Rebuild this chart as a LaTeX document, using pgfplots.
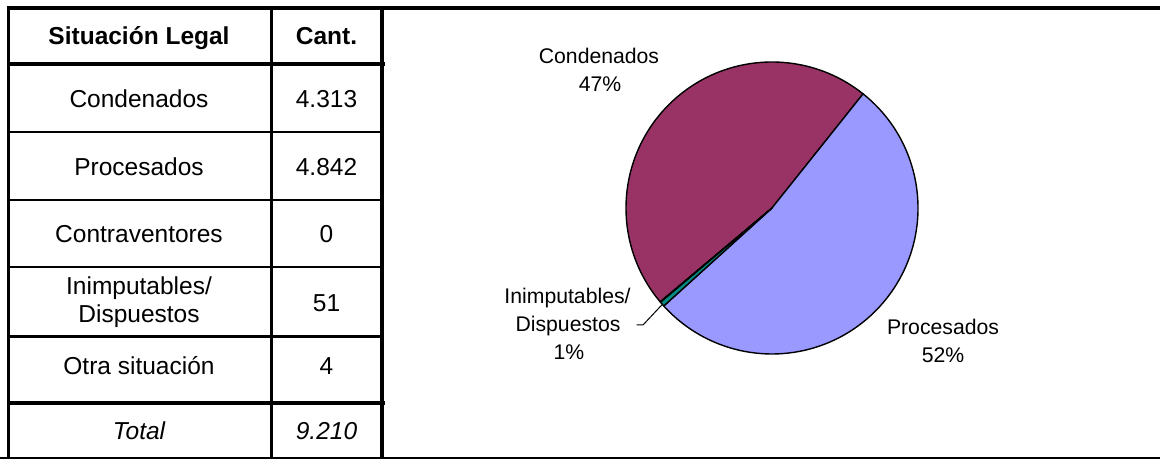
\documentclass[border=0pt]{standalone}
\usepackage{pgfplots}
\usepackage{pgfplotstable}
\pgfplotsset{compat=1.18}
\usepackage{fontspec}
\setmainfont{Liberation Sans}

\definecolor{condenados}{HTML}{993366}
\definecolor{procesados}{HTML}{9999FF}
\definecolor{inimputables}{RGB}{0,140,130}
\definecolor{otra}{HTML}{FFFFCC}

\pgfplotstableread{
situacion cant
Condenados 4313
Procesados 4842
Contraventores 0
Inimputables 51
Otra 4
}\situacion

\newcommand{\tabfont}{\fontsize{12.25}{14}\selectfont}
\newcommand{\piefont}{\fontsize{10.6}{13}\selectfont}
% slice: start angle, end angle, colour (clockwise, centre 772,251, r = 146 units)
\newcommand{\pieslice}[3]{%
  \filldraw[fill=#3, draw=black, line width=0.7pt, line join=round]
    (axis cs:772,251) -- (axis cs:{772+146*cos(#1)},{251+146*sin(#1)})
    arc[start angle=#1, end angle=#2, radius=73pt] -- cycle;}

\begin{document}
\begin{tikzpicture}
\path[use as bounding box] (0,0) rectangle (580pt,229.5pt);

\pgfplotstablegetelem{0}{cant}\of\situacion \let\vCond\pgfplotsretval
\pgfplotstablegetelem{1}{cant}\of\situacion \let\vProc\pgfplotsretval
\pgfplotstablegetelem{2}{cant}\of\situacion \let\vCont\pgfplotsretval
\pgfplotstablegetelem{3}{cant}\of\situacion \let\vInim\pgfplotsretval
\pgfplotstablegetelem{4}{cant}\of\situacion \let\vOtra\pgfplotsretval
\pgfmathsetmacro{\total}{\vCond+\vProc+\vCont+\vInim+\vOtra}
\pgfmathsetmacro{\aA}{220}
\pgfmathsetmacro{\aB}{\aA-360*(\vCond/\total)}
\pgfmathsetmacro{\aC}{\aB-360*(\vProc/\total)}
\pgfmathsetmacro{\aD}{\aC-360*(\vCont/\total)}
\pgfmathsetmacro{\aE}{\aD-360*(\vInim/\total)}
\pgfmathsetmacro{\aF}{\aE-360*(\vOtra/\total)}

\begin{axis}[
    at={(0,0)}, anchor=south west,
    hide axis,
    x=0.5pt, y=0.5pt,
    xmin=0, xmax=1160,
    ymin=0, ymax=459,
    clip=false,
  ]
  % table grid
  \draw[line width=1.75pt] (axis cs:6.8,451) -- (axis cs:1160,451);
  \draw[line width=1.6pt] (axis cs:8.5,451) -- (axis cs:8.5,0);
  \draw[line width=2pt] (axis cs:382,451) -- (axis cs:382,0);
  \draw[line width=1.3pt] (axis cs:271.5,451) -- (axis cs:271.5,0);
  \draw[line width=2pt] (axis cs:8.5,395) -- (axis cs:385,395);
  \draw[line width=1.3pt] (axis cs:8.5,327) -- (axis cs:382,327);
  \draw[line width=1.3pt] (axis cs:8.5,259) -- (axis cs:382,259);
  \draw[line width=1.3pt] (axis cs:8.5,192) -- (axis cs:382,192);
  \draw[line width=1.3pt] (axis cs:8.5,122.5) -- (axis cs:382,122.5);
  \draw[line width=2pt] (axis cs:8.5,56) -- (axis cs:385,56);
  \draw[line width=1.2pt] (axis cs:0,0.7) -- (axis cs:1160,0.7);

  % table text
  \node[anchor=base, font=\tabfont\bfseries] at (axis cs:139,414) {Situación Legal};
  \node[anchor=base, font=\tabfont\bfseries] at (axis cs:326.5,414) {Cant.};
  \node[anchor=base, font=\tabfont] at (axis cs:139,351.7) {Condenados};
  \node[anchor=base, font=\tabfont] at (axis cs:326.5,351.7) {4.313};
  \node[anchor=base, font=\tabfont] at (axis cs:139,283.3) {Procesados};
  \node[anchor=base, font=\tabfont] at (axis cs:326.5,283.3) {4.842};
  \node[anchor=base, font=\tabfont] at (axis cs:139,216.5) {Contraventores};
  \node[anchor=base, font=\tabfont] at (axis cs:326.5,216.5) {0};
  \node[anchor=base, font=\tabfont] at (axis cs:139,164) {Inimputables/};
  \node[anchor=base, font=\tabfont] at (axis cs:139,136) {Dispuestos};
  \node[anchor=base, font=\tabfont] at (axis cs:326.5,147.3) {51};
  \node[anchor=base, font=\tabfont] at (axis cs:139,84) {Otra situación};
  \node[anchor=base, font=\tabfont] at (axis cs:326.5,84) {4};
  \node[anchor=base, font=\tabfont\itshape] at (axis cs:139,19) {Total};
  \node[anchor=base, font=\tabfont\itshape] at (axis cs:326.5,19) {9.210};

  % pie
  \pieslice{\aA}{\aB}{condenados}
  \pieslice{\aB}{\aC}{procesados}
  \pieslice{\aD}{\aE}{inimputables}
  \pieslice{\aE}{\aF}{otra}

  % pie labels
  \node[anchor=base, font=\piefont] at (axis cs:599,395) {Condenados};
  \node[anchor=base, font=\piefont] at (axis cs:600,367.3) {47\%};
  \node[anchor=base, font=\piefont] at (axis cs:943,124.7) {Procesados};
  \node[anchor=base, font=\piefont] at (axis cs:943,96.3) {52\%};
  \node[anchor=base, font=\piefont] at (axis cs:567.5,155) {Inimputables/};
  \node[anchor=base, font=\piefont] at (axis cs:568,127.3) {Dispuestos};
  \node[anchor=base, font=\piefont] at (axis cs:569,99.6) {1\%};
  \draw[line width=0.5pt] (axis cs:636.7,134) -- (axis cs:643,134) -- (axis cs:662.7,155);
\end{axis}
\end{tikzpicture}
\end{document}
